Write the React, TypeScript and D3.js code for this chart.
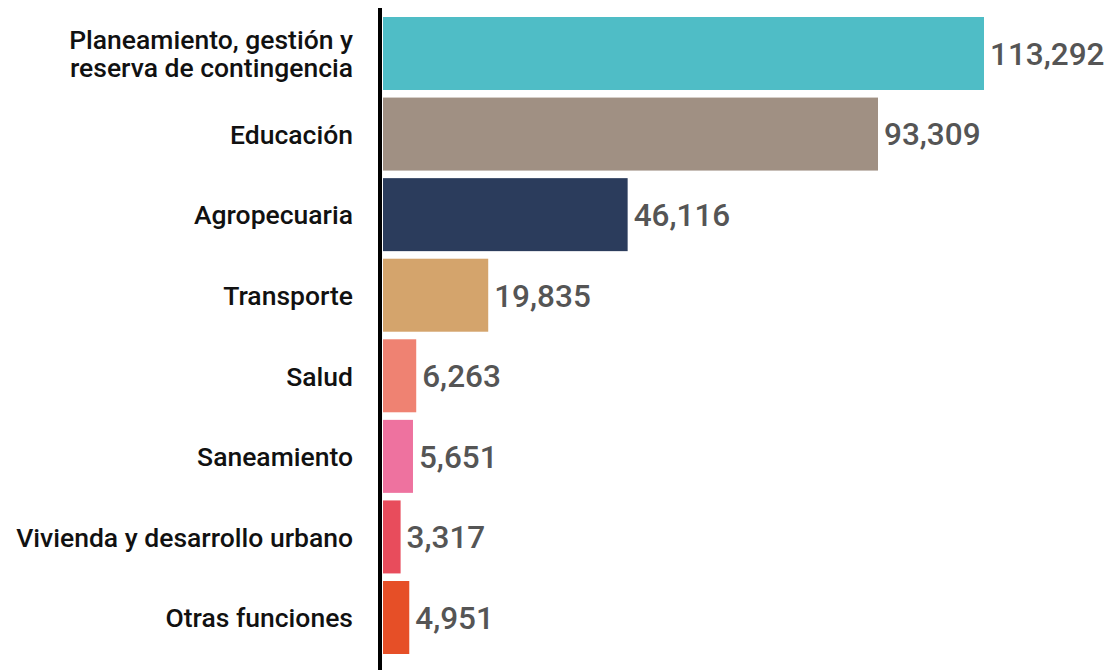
import React from "react";
import * as d3 from "d3";

const categories: string[][] = [
  ["Planeamiento, gestión y", "reserva de contingencia"],
  ["Educación"],
  ["Agropecuaria"],
  ["Transporte"],
  ["Salud"],
  ["Saneamiento"],
  ["Vivienda y desarrollo urbano"],
  ["Otras funciones"],
];
const values: number[] = [113292, 93309, 46116, 19835, 6263, 5651, 3317, 4951];
const colors: string[] = ["#4FBDC6", "#A09083", "#2B3C5C", "#D4A46C", "#EF8272", "#EE729F", "#E84C5C", "#E64F27"];

const W = 1110;
const H = 670;

export default function App() {
  const x = d3.scaleLinear().domain([0, 113292]).range([383, 984]);
  const y = d3
    .scaleBand<number>()
    .domain(d3.range(values.length))
    .range([17, 654])
    .paddingInner(0.094)
    .paddingOuter(0);
  const fmt = d3.format(",");
  const lh = 28;
  return (
    <svg
      width={W}
      height={H}
      style={{ position: "absolute", left: 0, top: 0, fontFamily: "Roboto, sans-serif" }}
    >
      <rect x={0} y={0} width={W} height={H} fill="#fff" />
      {values.map((v, i) => {
        const y0 = y(i)!;
        const bh = y.bandwidth();
        const cy = y0 + bh / 2;
        const lines = categories[i];
        const base = cy + 9.8 - ((lines.length - 1) * lh) / 2;
        return (
          <g key={i}>
            <rect x={x(0)} y={y0} width={x(v) - x(0)} height={bh} fill={colors[i]} />
            <text
              x={x(v) + 6}
              y={cy}
              dy="0.36em"
              fontSize={31.5}
              fontWeight={500}
              fill="#555"
            >
              {fmt(v)}
            </text>
            {lines.map((l, j) => (
              <text
                key={j}
                x={353}
                y={base + j * lh}
                fontSize={26.5}
                fontWeight={500}
                fill="#111"
                textAnchor="end"
              >
                {l}
              </text>
            ))}
          </g>
        );
      })}
      <line x1={380} x2={380} y1={8} y2={H} stroke="#000" strokeWidth={4} />
    </svg>
  );
}
